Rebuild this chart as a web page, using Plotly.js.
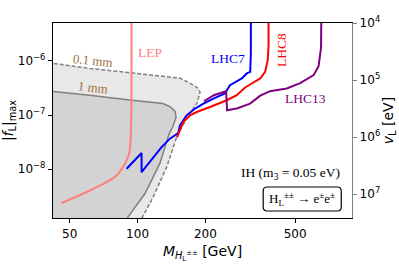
<!DOCTYPE html>
<html>
<head>
<meta charset="utf-8">
<script src="https://cdn.plot.ly/plotly-3.0.1.min.js"></script>
<style>html,body{margin:0;padding:0;background:#fff;}#chart{width:399px;height:265px;}</style>
</head>
<body>
<div id="chart"></div>
<script>
// Data
const lepM = [94, 94, 93.8, 93.1, 91.8, 87.9, 80.7, 72.8, 61.4, 45.9];
const lepF = [6e-6, 1e-6, 1e-7, 3.41e-8, 1.96e-8, 1.28e-8, 7.67e-9, 5.77e-9, 4.05e-9, 2.36e-9];

const lhc7M = [89.4, 104.2, 104.2, 127.8, 139.2, 151.6, 154.2, 165, 180, 196, 217, 244, 257, 275, 290, 305, 316, 318, 318];
const lhc7F = [1.02e-8, 1.99e-8, 8.83e-9, 2.57e-8, 3.67e-8, 4.67e-8, 6.47e-8, 9.9e-8, 1.32e-7, 1.63e-7, 2.02e-7, 2.5e-7, 3.56e-7, 4.1e-7, 4.74e-7, 5.87e-7, 6.28e-7, 1.38e-6, 6e-6];

const lhc8M = [149.6, 159.5, 170.9, 183, 209.6, 248.6, 275.5, 300, 321, 350, 368, 378, 381, 381];
const lhc8F = [3.88e-8, 7.45e-8, 9.9e-8, 1.14e-7, 1.41e-7, 1.88e-7, 2.33e-7, 3.23e-7, 3.83e-7, 4.74e-7, 6.28e-7, 1.04e-6, 2e-6, 6e-6];

const lhc13M = [197, 218, 247, 249.5, 275.5, 315.6, 350, 387, 459, 526, 604, 635, 651, 653];
const lhc13F = [1.80e-7, 2.33e-7, 2.76e-7, 1.23e-7, 1.32e-7, 1.63e-7, 2.28e-7, 2.76e-7, 3.10e-7, 3.88e-7, 5.46e-7, 8.0e-7, 1.73e-6, 6e-6];

const mm01M = [40, 61.4, 94, 129.6, 154.2, 170.9, 185.5, 189.3, 183.5, 170.9, 159, 151, 135, 117, 104, 100];
const mm01F = [9.3e-7, 7.26e-7, 6.02e-7, 5.23e-7, 4.80e-7, 3.88e-7, 3.13e-7, 2.64e-7, 1.66e-7, 1.08e-7, 6.47e-8, 4.60e-8, 1.13e-8, 3.0e-9, 1.21e-9, 9e-10];

const mm1M = [40, 61.4, 94, 129.6, 139.2, 146.5, 148.2, 143.6, 137.8, 125.6, 107.9, 89.7, 86];
const mm1F = [2.8e-7, 2.33e-7, 1.88e-7, 1.63e-7, 1.43e-7, 1.18e-7, 9.1e-8, 6.2e-8, 4.41e-8, 1.28e-8, 3.56e-9, 1.23e-9, 8.5e-10];

const xTicks = [50, 100, 200, 500];
const xTickText = ['50', '100', '200', '500'];
const yTicks = [1e-8, 1e-7, 1e-6];
const yTickText = ['10<sup>\u22128</sup>', '10<sup>\u22127</sup>', '10<sup>\u22126</sup>'];
const vTicks = [1e4, 1e5, 1e6, 1e7];
const vTickText = ['10<sup>4</sup>', '10<sup>5</sup>', '10<sup>6</sup>', '10<sup>7</sup>'];

const bottomF = 5e-10;
const fillLight = {
  x: mm01M.concat([mm01M[mm01M.length - 1], 30, 30]),
  y: mm01F.concat([bottomF, bottomF, mm01F[0]]),
  mode: 'lines', fill: 'toself', fillcolor: 'rgb(232,232,232)',
  line: {width: 0}, hoverinfo: 'skip', showlegend: false
};
const fillDark = {
  x: mm1M.concat([mm1M[mm1M.length - 1], 30, 30]),
  y: mm1F.concat([bottomF, bottomF, mm1F[0]]),
  mode: 'lines', fill: 'toself', fillcolor: 'rgb(211,211,211)',
  line: {width: 0}, hoverinfo: 'skip', showlegend: false
};
const line01 = {x: mm01M, y: mm01F, mode: 'lines', line: {color: 'rgb(128,128,128)', width: 1.5, dash: '4px,2px'}, showlegend: false};
const line1 = {x: mm1M, y: mm1F, mode: 'lines', line: {color: 'rgb(128,128,128)', width: 1.5}, showlegend: false};
const lep = {x: lepM, y: lepF, mode: 'lines', line: {color: 'rgb(255,128,128)', width: 2, shape: 'spline', smoothing: 0.8}, showlegend: false};
const lhc7 = {x: lhc7M, y: lhc7F, mode: 'lines', line: {color: 'rgb(0,0,255)', width: 2}, showlegend: false};
const lhc8 = {x: lhc8M, y: lhc8F, mode: 'lines', line: {color: 'rgb(255,0,0)', width: 2}, showlegend: false};
const lhc13 = {x: lhc13M, y: lhc13F, mode: 'lines', line: {color: 'rgb(128,0,128)', width: 2}, showlegend: false};
const dummy = {x: [100], y: [1e5], yaxis: 'y2', mode: 'markers', marker: {opacity: 0}, hoverinfo: 'skip', showlegend: false};

const serif = 'Liberation Serif, DejaVu Serif, serif';
const sans = 'DejaVu Sans, sans-serif';
const brown = 'rgb(160,110,60)';

const rx = 0.0134, ry = 0.0205;
const bx0 = 0.703, bx1 = 0.964, by0 = 0.036, by1 = 0.159;
const boxPath = 'M ' + (bx0 + rx) + ',' + by0 + ' L ' + (bx1 - rx) + ',' + by0 +
  ' Q ' + bx1 + ',' + by0 + ' ' + bx1 + ',' + (by0 + ry) +
  ' L ' + bx1 + ',' + (by1 - ry) + ' Q ' + bx1 + ',' + by1 + ' ' + (bx1 - rx) + ',' + by1 +
  ' L ' + (bx0 + rx) + ',' + by1 + ' Q ' + bx0 + ',' + by1 + ' ' + bx0 + ',' + (by1 - ry) +
  ' L ' + bx0 + ',' + (by0 + ry) + ' Q ' + bx0 + ',' + by0 + ' ' + (bx0 + rx) + ',' + by0 + ' Z';

function ann(x, y, text, size, color, angle) {
  return {xref: 'paper', yref: 'paper', x: x, y: y, text: text, showarrow: false,
    xanchor: 'center', yanchor: 'middle', textangle: angle || 0,
    font: {family: serif, size: size, color: color}};
}

const layout = {
  width: 399, height: 265,
  margin: {l: 53, r: 47, t: 23, b: 47},
  paper_bgcolor: '#fff', plot_bgcolor: '#fff',
  font: {family: sans, size: 12, color: '#000'},
  xaxis: {
    type: 'log', range: [1.625, 2.951],
    tickvals: xTicks, ticktext: xTickText,
    ticks: 'outside', ticklen: 4, tickwidth: 1, tickcolor: '#000',
    showline: true, linecolor: '#000', linewidth: 1.2, mirror: true,
    showgrid: false, zeroline: false,
    tickfont: {family: sans, size: 12},
    title: {text: '<i>M</i><sub><i>H</i><sub>L</sub><sup>±±</sup></sub> [GeV]', font: {family: sans, size: 14}, standoff: 6}
  },
  yaxis: {
    type: 'log', range: [-8.90, -5.30],
    tickvals: yTicks, ticktext: yTickText,
    ticks: 'outside', ticklen: 4, tickwidth: 1, tickcolor: '#000',
    showline: true, linecolor: '#000', linewidth: 1.2, mirror: false,
    showgrid: false, zeroline: false,
    tickfont: {family: sans, size: 12},
    title: {text: '|<i>f</i><sub>L</sub>|<sub>max</sub>', font: {family: sans, size: 14}, standoff: 4}
  },
  yaxis2: {
    type: 'log', range: [7.42, 4], overlaying: 'y', side: 'right',
    tickvals: vTicks, ticktext: vTickText,
    ticks: 'outside', ticklen: 4, tickwidth: 1, tickcolor: 'rgb(128,128,128)',
    showline: true, linecolor: 'rgb(128,128,128)', linewidth: 1.2,
    showgrid: false, zeroline: false,
    tickfont: {family: sans, size: 12},
    title: {text: '<i>v</i><sub>L</sub> [eV]', font: {family: sans, size: 14}, standoff: 4}
  },
  shapes: [
    {type: 'path', xref: 'paper', yref: 'paper', layer: 'below', path: boxPath, line: {color: '#000', width: 1.2}, fillcolor: 'rgba(0,0,0,0)'}
  ],
  annotations: [
    ann(0.133, 0.81, '0.1 mm', 13, brown, 6),
    ann(0.135, 0.669, '1 mm', 13, brown, 6),
    ann(0.324, 0.851, 'LEP', 13.5, 'rgb(255,128,128)'),
    ann(0.584, 0.818, 'LHC7', 13.5, 'rgb(0,0,255)'),
    ann(0.766, 0.862, 'LHC8', 13.5, 'rgb(255,0,0)', -90),
    ann(0.843, 0.615, 'LHC13', 13.5, 'rgb(128,0,128)'),
    ann(0.794, 0.226, 'IH (m<sub>3</sub> = 0.05 eV)', 13.5, '#000'),
    ann(0.834, 0.097, 'H<sub>L</sub><sup>±±</sup> \u2192 e<sup>±</sup>e<sup>±</sup>', 13, '#000')
  ]
};

Plotly.newPlot('chart', [fillLight, fillDark, line01, line1, lep, lhc7, lhc8, lhc13, dummy], layout, {staticPlot: true, displayModeBar: false});
</script>
</body>
</html>
